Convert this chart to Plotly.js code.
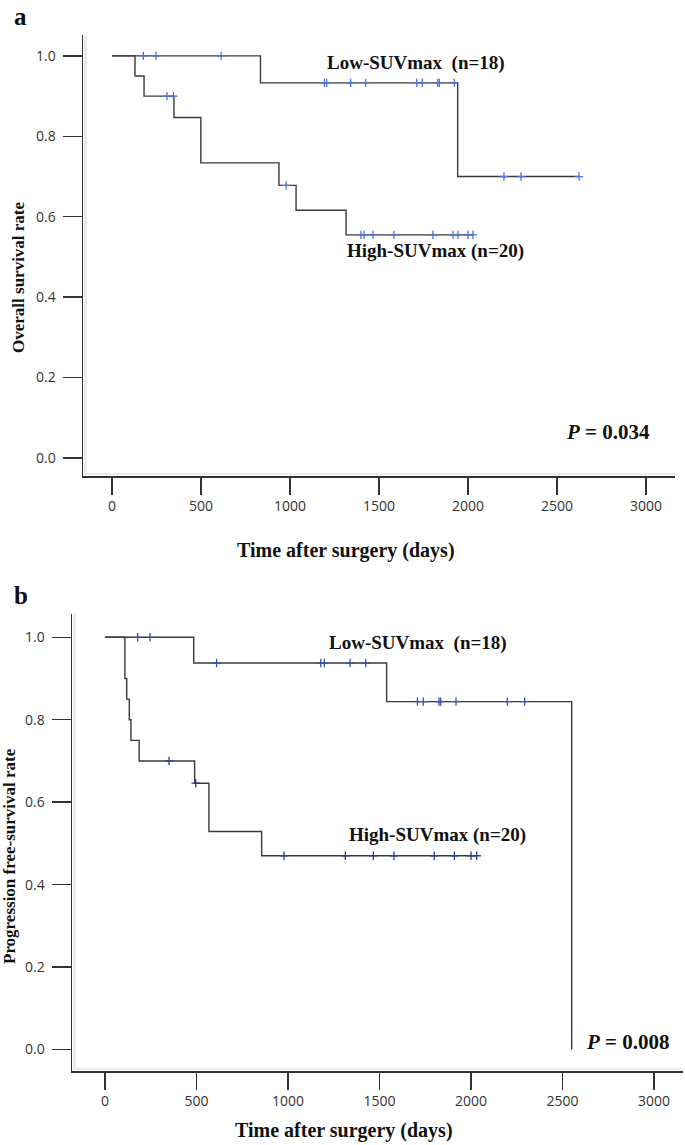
<!DOCTYPE html>
<html>
<head>
<meta charset="utf-8">
<script src="https://cdn.plot.ly/plotly-3.0.1.min.js"></script>
<style>
html,body{margin:0;padding:0;background:#fff;}
#chart{width:685px;height:1145px;}
</style>
</head>
<body>
<div id="chart"></div>
<script>
// ---------- data ----------
const timeTicks = [0, 500, 1000, 1500, 2000, 2500, 3000];
const rateTicks = [0, 0.2, 0.4, 0.6, 0.8, 1.0];

// Panel a: overall survival
const osLowTime   = [0, 834, 1942, 2624];
const osLowSurv   = [1, 0.933, 0.70, 0.70];
const osLowCens   = [176, 247, 613, 1193, 1206, 1341, 1425, 1712, 1743, 1830, 1839, 1923, 2202, 2298, 2624];
const osHighTime  = [0, 129, 180, 348, 499, 938, 1034, 1315, 2028];
const osHighSurv  = [1, 0.95, 0.90, 0.847, 0.734, 0.678, 0.616, 0.555, 0.555];
const osHighCens  = [309, 345, 978, 1399, 1416, 1466, 1584, 1803, 1916, 1944, 2000, 2028];

// Panel b: progression-free survival
const pfsLowTime  = [0, 485, 1539, 2550];
const pfsLowSurv  = [1, 0.9375, 0.844, 0];
const pfsLowCens  = [179, 246, 610, 1179, 1198, 1339, 1425, 1707, 1739, 1825, 1834, 1918, 2198, 2293];
const pfsHighTime = [0, 109, 119, 133, 142, 187, 490, 568, 856, 2031];
const pfsHighSurv = [1, 0.90, 0.85, 0.80, 0.75, 0.70, 0.646, 0.529, 0.470, 0.470];
const pfsHighCens = [350, 496, 978, 1313, 1466, 1579, 1799, 1909, 2000, 2031];

const lowLabel  = 'Low-SUVmax\u00A0\u00A0(n=18)';
const highLabel = 'High-SUVmax (n=20)';
const pA = '<i>P</i> = 0.034';
const pB = '<i>P</i> = 0.008';

// ---------- helpers ----------
const W = 685, H = 1145;
const px = v => v / W;
const py = v => 1 - v / H;
function survAt(times, surv, t) {
  let s = surv[0];
  for (let i = 0; i < times.length; i++) if (times[i] <= t) s = surv[i];
  return s;
}
const lineCol = '#3a3a3a';
function curve(t, s, xa, ya) {
  return {x: t, y: s, xaxis: xa, yaxis: ya, mode: 'lines', hoverinfo: 'skip',
          line: {shape: 'hv', color: lineCol, width: 1.4}, showlegend: false};
}
function cens(c, t, s, xa, ya, col) {
  return {x: c, y: c.map(v => survAt(t, s, v)), xaxis: xa, yaxis: ya, mode: 'markers',
          hoverinfo: 'skip', showlegend: false,
          marker: {symbol: 'cross-thin', size: 6, line: {color: col, width: 1.3}}};
}

const data = [
  curve(osLowTime, osLowSurv, 'x', 'y'),
  curve(osHighTime, osHighSurv, 'x', 'y'),
  cens(osLowCens, osLowTime, osLowSurv, 'x', 'y', '#4f72d6'),
  cens(osHighCens, osHighTime, osHighSurv, 'x', 'y', '#4f72d6'),
  curve(pfsLowTime, pfsLowSurv, 'x2', 'y2'),
  curve(pfsHighTime, pfsHighSurv, 'x2', 'y2'),
  cens(pfsLowCens, pfsLowTime, pfsLowSurv, 'x2', 'y2', '#3550b8'),
  cens(pfsHighCens, pfsHighTime, pfsHighSurv, 'x2', 'y2', '#2a3c99')
];

const tickFont = {family: 'Open Sans, DejaVu Sans, sans-serif', size: 14, color: '#333'};
const serif = 'Liberation Serif, Times New Roman, serif';

function xAx(dom, rng, anchor) {
  return {domain: dom, range: rng, anchor: anchor, tickvals: timeTicks,
          ticks: 'outside', ticklen: 17, tickwidth: 1.5, tickcolor: '#333',
          showline: true, linecolor: '#333', linewidth: 1.5,
          showgrid: false, zeroline: false, tickfont: tickFont, fixedrange: true};
}
function yAx(dom, rng, anchor) {
  return {domain: dom, range: rng, anchor: anchor, tickvals: rateTicks, tickformat: '.1f',
          ticks: 'outside', ticklen: 19, tickwidth: 1.5, tickcolor: '#333',
          showline: true, linecolor: '#333', linewidth: 1.5, ticklabelstandoff: 4,
          showgrid: false, zeroline: false, tickfont: tickFont, fixedrange: true};
}

function ann(text, x, y, size, opts) {
  return Object.assign({text: text, x: px(x), y: py(y), xref: 'paper', yref: 'paper',
    showarrow: false, xanchor: 'center', yanchor: 'middle',
    font: {family: serif, size: size, color: '#111', weight: 'bold'}}, opts || {});
}

const shadow = '#ececec';
const layout = {
  width: W, height: H,
  margin: {l: 0, r: 0, t: 0, b: 0},
  paper_bgcolor: '#fff', plot_bgcolor: '#fff',
  showlegend: false,
  xaxis:  xAx([px(83), px(675)], [-163, 3163], 'y'),
  yaxis:  yAx([py(476), py(35)], [-0.0448, 1.052], 'x'),
  xaxis2: xAx([px(72), px(683)], [-180, 3158], 'y2'),
  yaxis2: yAx([py(1071), py(614)], [-0.0522, 1.0565], 'x2'),
  shapes: [
    {type: 'rect', xref: 'paper', yref: 'paper', x0: px(84), x1: px(87), y0: py(475), y1: py(35),
     fillcolor: shadow, line: {width: 0}, layer: 'below'},
    {type: 'rect', xref: 'paper', yref: 'paper', x0: px(84), x1: px(675), y0: py(475), y1: py(473),
     fillcolor: shadow, line: {width: 0}, layer: 'below'},
    {type: 'rect', xref: 'paper', yref: 'paper', x0: px(73), x1: px(76), y0: py(1070), y1: py(614),
     fillcolor: shadow, line: {width: 0}, layer: 'below'},
    {type: 'rect', xref: 'paper', yref: 'paper', x0: px(73), x1: px(683), y0: py(1070), y1: py(1068),
     fillcolor: shadow, line: {width: 0}, layer: 'below'}
  ],
  annotations: [
    ann('a', 12, 1, 25, {xanchor: 'left', yanchor: 'top'}),
    ann('b', 12, 596, 25, {xanchor: 'left'}),
    ann('Overall survival rate', 18, 277, 17, {textangle: -90}),
    ann('Time after surgery (days)', 346, 550, 20),
    ann('Progression free-survival rate', 9, 856, 17, {textangle: -90}),
    ann('Time after surgery (days)', 344, 1130, 20),
    ann(lowLabel, 416, 63, 19),
    ann(highLabel, 435, 251, 19),
    ann(lowLabel, 418, 643, 19),
    ann(highLabel, 437, 835, 19),
    ann(pA, 652, 432, 21, {xanchor: 'right'}),
    ann(pB, 672, 1042, 21, {xanchor: 'right'})
  ]
};

Plotly.newPlot('chart', data, layout, {staticPlot: true, displayModeBar: false});
</script>
</body>
</html>
